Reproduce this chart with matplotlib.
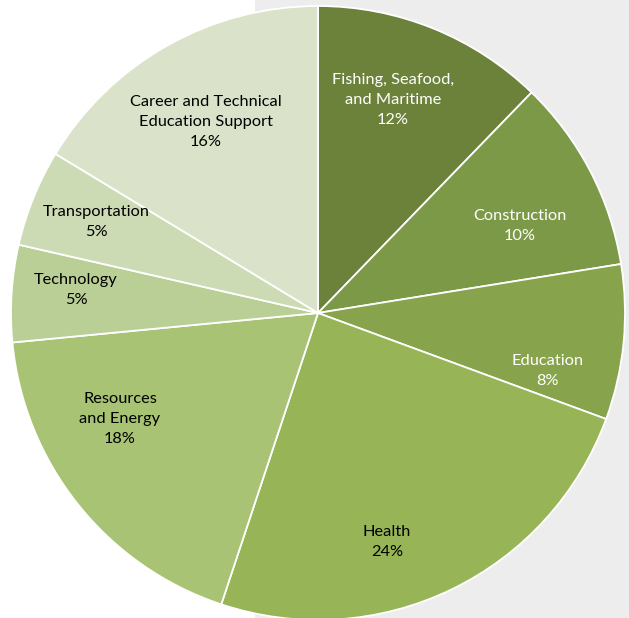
import matplotlib
matplotlib.use("Agg")
import matplotlib.pyplot as plt
from matplotlib.patches import Rectangle

# Program areas and their shares (percent), clockwise from the top
categories = [
    "Fishing, Seafood,\nand Maritime",
    "Construction",
    "Education",
    "Health",
    "Resources\nand Energy",
    "Technology",
    "Transportation",
    "Career and Technical\nEducation Support",
]
shares = [12, 10, 8, 24, 18, 5, 5, 16]

colors = ["#6C823B", "#7C9947", "#87A34B", "#97B557",
          "#A8C373", "#BACF96", "#CDDBB5", "#DAE3C9"]
text_colors = ["white", "white", "white", "black",
               "black", "black", "black", "black"]
# label anchor offsets from the centre, in units of the radius
label_offsets = [(0.244, 0.694), (0.658, 0.283), (0.749, -0.189), (0.225, -0.746),
                 (-0.645, -0.345), (-0.788, 0.075), (-0.723, 0.296), (-0.365, 0.622)]

W, H = 629, 618
fig = plt.figure(figsize=(W / 100, H / 100), dpi=100)
ax = fig.add_axes([0, 0, 1, 1])

# grey backdrop on the right-hand side
ax.add_patch(Rectangle((255, 0), W - 255, H, facecolor="#EDEDED",
                       edgecolor="none", zorder=0))

cx, cy, R = 318, H - 313, 307
wedges, _ = ax.pie(shares, colors=colors, startangle=90, counterclock=False,
                   center=(cx, cy), radius=R, frame=True,
                   wedgeprops=dict(edgecolor="white", linewidth=1.3))
for w in wedges:
    w.set_zorder(2)
ax.set_xlim(0, W)
ax.set_ylim(0, H)
ax.set_aspect("equal")
ax.axis("off")

for name, val, (ox, oy), tc in zip(categories, shares, label_offsets, text_colors):
    ax.text(cx + ox * R, cy + oy * R, f"{name}\n{val}%", ha="center", va="center",
            color=tc, fontsize=11.8, family="Lato", linespacing=1.55, zorder=3)

fig.savefig("out.png", dpi=100)
